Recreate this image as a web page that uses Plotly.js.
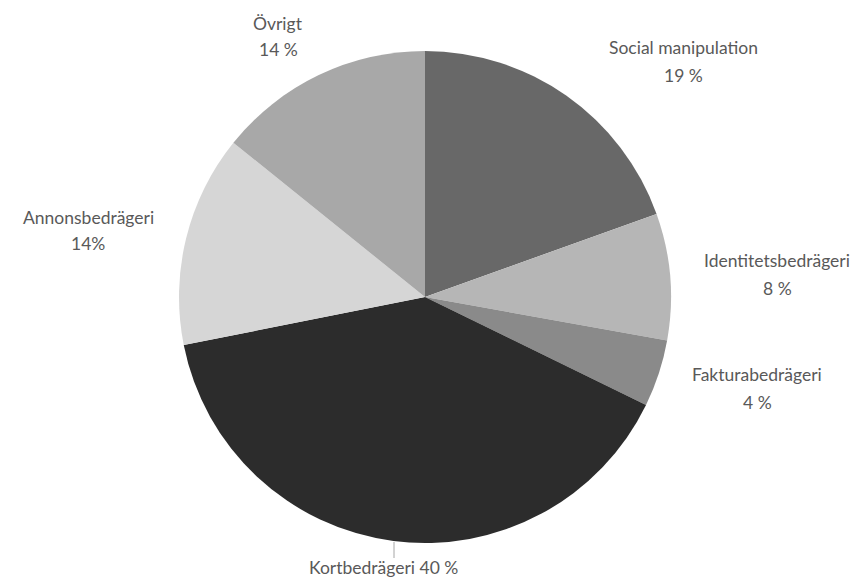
<!DOCTYPE html>
<html>
<head>
<meta charset="utf-8">
<script src="https://cdn.plot.ly/plotly-3.0.1.min.js"></script>
<style>html,body{margin:0;padding:0;background:#fff;}#chart{width:865px;height:578px;}</style>
</head>
<body>
<div id="chart"></div>
<script>
var categories = ["Social manipulation", "Identitetsbedrägeri", "Fakturabedrägeri", "Kortbedrägeri", "Annonsbedrägeri", "Övrigt"];
var values = [19.5, 8.3, 4.4, 39.6, 13.9, 14.2];
var percentLabels = ["19 %", "8 %", "4 %", "40 %", "14%", "14 %"];
var colors = ["#686868", "#b6b6b6", "#8a8a8a", "#2c2c2c", "#d6d6d6", "#a8a8a8"];

var W = 865, H = 578;
var cx = 425, cy = 297, R = 246;

// label placement: centre x, name line y, percent line y (null = same line)
var labelPos = [
  {x: 683, y1: 47, y2: 75},
  {x: 777, y1: 261, y2: 288},
  {x: 757, y1: 375, y2: 402},
  {x: 383, y1: 567, y2: null},
  {x: 88, y1: 217, y2: 243},
  {x: 278, y1: 24, y2: 50}
];

var font = {family: "Lato, 'Open Sans', sans-serif", size: 17.5, color: "#595959"};
var annotations = [];
categories.forEach(function (c, i) {
  var p = labelPos[i];
  var base = {xref: "paper", yref: "paper", x: p.x / W, xanchor: "center", yanchor: "middle",
              showarrow: false, align: "center", font: font};
  if (p.y2 === null) {
    annotations.push(Object.assign({}, base, {y: 1 - p.y1 / H, text: c + " " + percentLabels[i]}));
  } else {
    annotations.push(Object.assign({}, base, {y: 1 - p.y1 / H, text: c}));
    annotations.push(Object.assign({}, base, {y: 1 - p.y2 / H, text: percentLabels[i]}));
  }
});

var trace = {
  type: "pie",
  labels: categories,
  values: values,
  sort: false,
  direction: "clockwise",
  rotation: 0,
  textinfo: "none",
  hoverinfo: "label+percent",
  marker: {colors: colors, line: {width: 0}},
  domain: {
    x: [(cx - R) / W, (cx + R) / W],
    y: [(H - cy - R) / H, (H - cy + R) / H]
  },
  showlegend: false
};

var layout = {
  width: W, height: H,
  margin: {l: 0, r: 0, t: 0, b: 0},
  paper_bgcolor: "#ffffff",
  showlegend: false,
  annotations: annotations,
  shapes: [{
    type: "line", xref: "paper", yref: "paper",
    x0: 394 / W, x1: 394 / W, y0: 1 - 542 / H, y1: 1 - 558 / H,
    line: {color: "#a6a6a6", width: 1}
  }]
};

Plotly.newPlot("chart", [trace], layout, {displayModeBar: false, staticPlot: true});
</script>
</body>
</html>
